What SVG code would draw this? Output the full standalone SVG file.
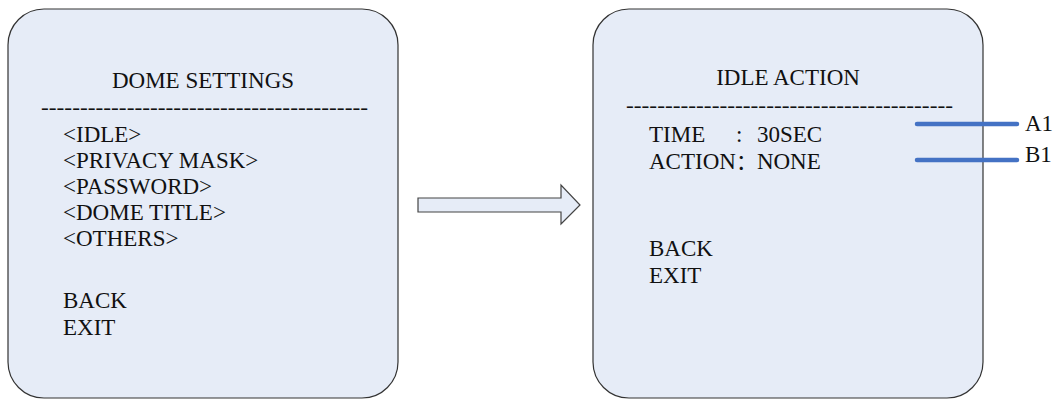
<svg xmlns="http://www.w3.org/2000/svg" width="1057" height="399" viewBox="0 0 1057 399">
<style>
.box{fill:#E6ECF7;stroke:#333;stroke-width:1.2}
.t{font-family:"Liberation Serif","Times New Roman",serif;font-size:23px;fill:#111}
.dash{font-family:"Liberation Serif","Times New Roman",serif;font-size:22px;fill:#111}
.lead{stroke:#4472C4;stroke-width:4.5;stroke-linecap:round;fill:none}
.arr{fill:#E6ECF7;stroke:#444;stroke-width:1.2}
</style>
<rect width="1057" height="399" fill="#fff"/>
<g id="dome-settings">
<rect class="box" x="8" y="9" width="390" height="389" rx="36" ry="36"/>
<text class="t" x="203" y="88" text-anchor="middle">DOME SETTINGS</text>
<text class="dash" x="41" y="114" textLength="327" lengthAdjust="spacingAndGlyphs">------------------------------------------</text>
<text class="t" x="63" y="142">&lt;IDLE&gt;</text>
<text class="t" x="63" y="168">&lt;PRIVACY MASK&gt;</text>
<text class="t" x="63" y="194">&lt;PASSWORD&gt;</text>
<text class="t" x="63" y="220">&lt;DOME TITLE&gt;</text>
<text class="t" x="63" y="246">&lt;OTHERS&gt;</text>
<text class="t" x="63" y="308">BACK</text>
<text class="t" x="63" y="335">EXIT</text>
</g>
<g id="idle-action">
<rect class="box" x="593" y="9" width="390" height="389" rx="36" ry="36"/>
<text class="t" x="788" y="85" text-anchor="middle">IDLE ACTION</text>
<text class="dash" x="626" y="112" textLength="327" lengthAdjust="spacingAndGlyphs">------------------------------------------</text>
<text class="t" x="649" y="142">TIME</text>
<text class="t" x="736" y="142">:</text>
<text class="t" x="757" y="142">30SEC</text>
<text class="t" x="649" y="169">ACTION<tspan font-family="'Noto Sans CJK SC',sans-serif" font-size="21">：</tspan>NONE</text>
<text class="t" x="649" y="256">BACK</text>
<text class="t" x="649" y="283">EXIT</text>
</g>
<g id="labels">
<text class="t" x="1025" y="131">A1</text>
<text class="t" x="1025" y="162">B1</text>
</g>
<g id="connectors">
<polygon class="arr" points="418,198 561,198 561,185 580,205 561,224 561,212 418,212"/>
<line class="lead" x1="917" y1="124" x2="1017" y2="124"/>
<line class="lead" x1="917" y1="160" x2="1017" y2="160"/>
</g>
</svg>
